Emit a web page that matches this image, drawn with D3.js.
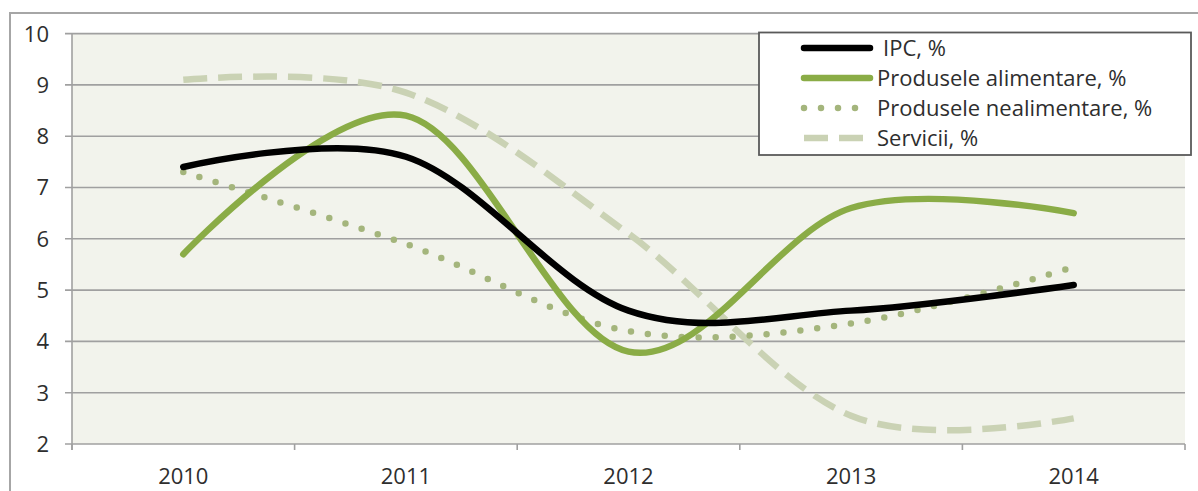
<!DOCTYPE html>
<html><head><meta charset="utf-8">
<script src="https://cdn.jsdelivr.net/npm/d3@7"></script>
<style>
html,body{margin:0;padding:0;background:#fff;}
svg{display:block;}
text{font-family:"Open Sans",sans-serif;fill:#2e2e2e;}
</style></head>
<body>
<svg id="chart" width="1198" height="491"></svg>
<script>
const years = ["2010","2011","2012","2013","2014"];
const ipc = [7.4, 7.6, 4.6, 4.6, 5.1];
const alimentare = [5.7, 8.4, 3.8, 6.6, 6.5];
const nealimentare = [7.3, 5.9, 4.2, 4.35, 5.45];
const servicii = [9.1, 8.85, 6.1, 2.55, 2.5];
const yTicks = [2,3,4,5,6,7,8,9,10];
const seriesNames = ["IPC, %","Produsele alimentare, %","Produsele nealimentare, %","Servicii, %"];

const series = [
  {name: seriesNames[0], values: ipc, color:"#000000", width:6.5, dash:null, cap:"round"},
  {name: seriesNames[1], values: alimentare, color:"#8aac46", width:6.5, dash:null, cap:"round"},
  {name: seriesNames[2], values: nealimentare, color:"#a4b57c", width:6.5, dash:"0 17", cap:"round"},
  {name: seriesNames[3], values: servicii, color:"#cad2b4", width:6.5, dash:"24 11", cap:"butt"}
];

const svg = d3.select("#chart");
const L = 72, R = 1185, T = 33.6, B = 444;

svg.append("rect").attr("x",10).attr("y",13).attr("width",1200).attr("height",500)
  .attr("fill","#fff").attr("stroke","#a6a6a6").attr("stroke-width",2);

const x = d3.scaleBand().domain(years).range([L,R]).padding(0);
const y = d3.scaleLinear().domain([2,10]).range([B,T]);
const cx = d => x(d) + x.bandwidth()/2;

svg.append("rect").attr("x",L).attr("y",T).attr("width",R-L).attr("height",B-T).attr("fill","#f2f3ec");

svg.append("g").selectAll("line").data(yTicks).join("line")
  .attr("x1",L-7).attr("x2",R).attr("y1",d=>y(d)).attr("y2",d=>y(d))
  .attr("stroke","#a0a0a0").attr("stroke-width",1.6);

svg.append("line").attr("x1",L).attr("x2",L).attr("y1",T).attr("y2",B+6).attr("stroke","#a0a0a0").attr("stroke-width",1.6);

const bounds = years.map(d=>x(d)).concat([R]);
svg.append("g").selectAll("line").data(bounds).join("line")
  .attr("x1",d=>d).attr("x2",d=>d).attr("y1",B).attr("y2",B+6)
  .attr("stroke","#a0a0a0").attr("stroke-width",1.6);

svg.append("g").selectAll("text").data(yTicks).join("text")
  .attr("x",49).attr("y",d=>y(d)).attr("dy","0.36em").attr("text-anchor","end")
  .style("font-size","22px").text(d=>d);

svg.append("g").selectAll("text").data(years).join("text")
  .attr("x",d=>cx(d)).attr("y",476).attr("dy","0.36em").attr("text-anchor","middle")
  .style("font-size","22px").text(d=>d);

const line = d3.line().x((d,i)=>cx(years[i])).y(d=>y(d)).curve(d3.curveCardinal.tension(0));
[3,2,1,0].forEach(k=>{
  const s = series[k];
  svg.append("path").attr("d", line(s.values)).attr("fill","none")
    .attr("stroke", s.color).attr("stroke-width", s.width)
    .attr("stroke-linecap", s.cap).attr("stroke-linejoin","round")
    .attr("stroke-dasharray", s.dash);
});

const lg = svg.append("g");
lg.append("rect").attr("x",759).attr("y",32.5).attr("width",432).attr("height",122.5)
  .attr("fill","#fff").attr("stroke","#5a5a5a").attr("stroke-width",1.8);
series.forEach((s,i)=>{
  const yy = 48 + i*30;
  lg.append("line").attr("x1",804).attr("x2",870).attr("y1",yy).attr("y2",yy)
    .attr("stroke",s.color).attr("stroke-width",s.width)
    .attr("stroke-linecap", s.cap).attr("stroke-dasharray", s.dash);
  lg.append("text").attr("x", i===0?883:877).attr("y",yy).attr("dy","0.36em")
    .style("font-size","22px").text(s.name);
});
</script>
</body></html>
